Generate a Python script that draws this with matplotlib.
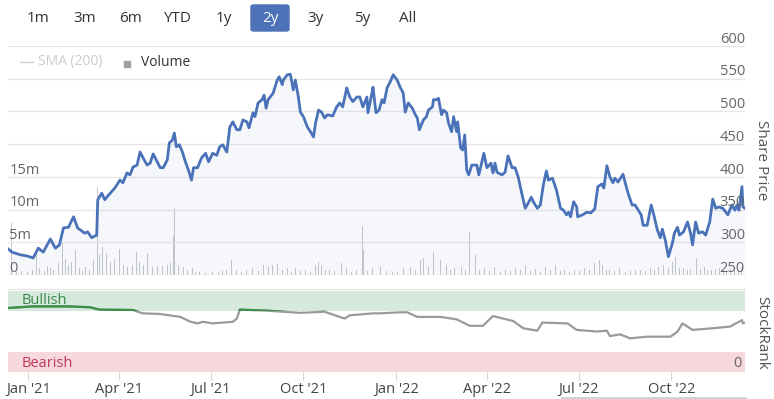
import matplotlib
matplotlib.use("Agg")
import matplotlib.pyplot as plt
import matplotlib.dates as mdates
import matplotlib.transforms as mtransforms
from matplotlib.patches import Rectangle, FancyBboxPatch
from matplotlib.lines import Line2D
import pandas as pd

plt.rcParams['font.family'] = ['Open Sans', 'DejaVu Sans']

# ---- data ----
start = pd.Timestamp('2020-12-12')
end = pd.Timestamp('2022-12-13')

# share price: days since start, price
price_days = [0, 4, 12, 19, 25, 30, 35, 42, 47, 51, 55, 60, 65, 69, 76, 79, 83, 88, 89, 93,
              96, 98, 106, 111, 114, 118, 121, 124, 128, 131, 134, 138, 141, 144, 148, 151, 154, 158, 160, 163,
              165, 167, 170, 173, 176, 179, 182, 184, 188, 192, 196, 199, 203, 207, 210, 213, 217, 220, 223, 227,
              230, 233, 237, 239, 243, 245, 248, 252, 254, 256, 258, 263, 267, 269, 272, 273, 277, 280, 283, 285,
              288, 290, 293, 297, 300, 303, 305, 308, 311, 314, 317, 322, 326, 329, 332, 336, 339, 342, 346, 349,
              352, 356, 357, 361, 362, 365, 368, 371, 373, 376, 379, 382, 386, 389, 392, 394, 397, 401, 404, 406,
              408, 412, 415, 417, 421, 422, 425, 427, 430, 432, 435, 437, 440, 442, 445, 446, 449, 451, 453, 455,
              457, 460, 465, 467, 472, 475, 479, 481, 483, 485, 490, 493, 496, 500, 503, 506, 510, 513, 516, 519,
              521, 525, 528, 531, 534, 536, 540, 544, 548, 551, 554, 556, 558, 561, 564, 565, 570, 574, 578, 582,
              585, 589, 591, 594, 597, 600, 602, 605, 610, 612, 615, 619, 622, 624, 628, 630, 634, 636, 638, 641,
              644, 647, 649, 652, 655, 659, 661, 664, 666, 670, 674, 677, 679, 682, 685, 689, 692, 696, 699, 702,
              705, 709, 714, 718, 721, 723, 725, 728, 729, 731]
price = [290, 285, 281, 279, 276, 291, 285, 305, 291, 296, 322, 323, 339, 322, 314, 316, 307, 311, 365, 375,
         365, 369, 383, 395, 391, 406, 403, 415, 418, 438, 429, 418, 421, 435, 423, 414, 414, 426, 452, 456,
         467, 446, 449, 438, 423, 410, 395, 414, 414, 429, 436, 423, 436, 433, 446, 449, 438, 476, 484, 472,
         472, 487, 484, 475, 498, 492, 513, 518, 525, 505, 518, 528, 548, 553, 541, 548, 556, 557, 533, 548,
         522, 499, 492, 476, 469, 461, 482, 502, 499, 490, 495, 493, 507, 513, 507, 536, 522, 515, 522, 522,
         507, 522, 498, 528, 537, 498, 502, 518, 513, 536, 545, 556, 548, 537, 528, 499, 513, 505, 495, 490,
         472, 487, 492, 502, 507, 518, 518, 520, 495, 502, 498, 482, 469, 492, 469, 484, 444, 441, 464, 410,
         403, 418, 418, 403, 436, 414, 421, 406, 421, 407, 403, 407, 432, 414, 414, 400, 372, 352, 360, 369,
         362, 352, 357, 388, 409, 395, 398, 380, 352, 349, 342, 346, 339, 362, 354, 339, 342, 346, 345, 351,
         385, 389, 383, 417, 400, 391, 398, 392, 404, 392, 375, 357, 357, 352, 342, 326, 326, 342, 357, 339,
         319, 307, 320, 303, 278, 299, 314, 323, 311, 316, 331, 314, 296, 331, 314, 316, 311, 331, 366, 352,
         354, 352, 342, 357, 349, 357, 349, 385, 354, 352]

# volume (millions)
vol_days = [3, 8, 13, 19, 24, 28, 31, 36, 39, 42, 45, 50, 54, 57, 60, 63, 67, 71, 74, 77,
            81, 85, 89, 91, 94, 98, 102, 106, 111, 115, 119, 123, 127, 130, 134, 138, 143, 148, 153, 158,
            161, 164, 165, 169, 174, 178, 183, 186, 190, 196, 203, 209, 213, 217, 222, 227, 232, 237, 243, 248,
            253, 258, 262, 267, 272, 277, 281, 285, 290, 295, 300, 305, 308, 311, 315, 319, 324, 331, 336, 341,
            346, 352, 353, 357, 362, 369, 375, 381, 386, 392, 399, 404, 409, 412, 417, 422, 429, 435, 439, 443,
            450, 454, 458, 464, 468, 473, 478, 483, 488, 493, 498, 503, 508, 513, 518, 523, 528, 533, 538, 543,
            548, 552, 557, 562, 567, 572, 577, 582, 587, 590, 594, 597, 602, 607, 612, 617, 622, 627, 632, 637,
            641, 645, 650, 655, 659, 662, 666, 670, 674, 677, 683, 687, 691, 694, 698, 702, 706, 710, 713, 717,
            721, 725, 728]
volume = [8.0, 0.4, 0.6, 0.5, 0.7, 3.4, 1.0, 0.6, 1.3, 1.0, 0.8, 1.8, 5.0, 2.5, 1.5, 2.0, 3.8, 1.0, 0.6, 1.2,
          0.7, 2.3, 13.5, 3.0, 4.3, 3.4, 2.0, 2.5, 4.0, 1.5, 1.2, 1.5, 3.5, 2.0, 1.5, 3.4, 1.2, 1.3, 1.4, 1.5,
          1.8, 5.9, 10.2, 1.5, 1.2, 0.8, 1.0, 0.4, 0.5, 0.3, 0.5, 0.4, 0.6, 0.8, 2.3, 0.8, 0.5, 0.8, 1.0, 0.6,
          1.5, 1.2, 1.6, 1.7, 0.7, 1.0, 0.5, 1.0, 0.6, 0.8, 0.5, 1.6, 2.0, 1.5, 0.7, 0.8, 0.6, 1.8, 1.0, 0.5,
          0.7, 7.5, 3.8, 0.6, 1.0, 1.2, 0.6, 0.5, 0.4, 1.0, 1.2, 0.7, 2.3, 2.6, 1.2, 3.5, 2.3, 1.5, 0.8, 1.0,
          1.2, 0.7, 6.5, 3.0, 0.8, 1.0, 0.6, 1.2, 0.5, 0.8, 0.6, 1.0, 0.7, 1.3, 0.6, 0.9, 0.5, 1.2, 0.7, 1.5,
          0.6, 0.8, 0.5, 0.7, 0.6, 1.0, 0.7, 1.8, 2.3, 1.5, 0.7, 0.8, 0.6, 1.0, 0.5, 0.6, 0.7, 0.8, 0.6, 1.0,
          0.8, 1.2, 1.5, 1.0, 2.0, 2.7, 1.1, 1.0, 0.8, 0.9, 2.6, 0.9, 1.2, 0.7, 0.8, 0.9, 1.0, 0.7, 0.8, 0.9,
          1.1, 0.8, 1.2]

# StockRank
rank_days = [0, 25, 59, 81, 91, 124, 133, 151, 171, 181, 188, 193, 203, 223, 227, 230, 257, 290, 314, 329,
             334, 339, 362, 369, 389, 396, 406, 429, 445, 458, 471, 481, 501, 511, 525, 530, 555, 564, 584, 594,
             597, 607, 617, 634, 657, 664, 669, 679, 699, 716, 728, 729, 731]
rank = [79, 81, 81, 80, 77, 76.5, 72.5, 71.6, 68, 62, 60, 62, 60, 62, 66, 77, 75.7, 73, 74.4, 68,
        66, 70, 72.4, 72.4, 73.7, 73.7, 68, 68, 65, 57, 57, 69, 63, 54, 51, 61, 60, 52, 50, 51,
        44.4, 46.5, 41.6, 43.6, 43.6, 49.8, 60, 52, 54, 56, 64, 60, 61]

price_ticks = [250, 300, 350, 400, 450, 500, 550, 600]
vol_ticks = [0, 5, 10, 15]
vol_tick_labels = ['0', '5m', '10m', '15m']
buttons = ['1m', '3m', '6m', 'YTD', '1y', '2y', '3y', '5y', 'All']
selected = '2y'

price_dates = start + pd.to_timedelta(price_days, unit='D')
vol_dates = start + pd.to_timedelta(vol_days, unit='D')
rank_dates = start + pd.to_timedelta(rank_days, unit='D')

# ---- figure ----
W, H = 774, 399
fig = plt.figure(figsize=(W / 100, H / 100), dpi=100)

def rect(x0, y0, x1, y1):
    return [x0 / W, 1 - y1 / H, (x1 - x0) / W, (y1 - y0) / H]

ax = fig.add_axes(rect(8, 46, 745, 275))
axv = ax.twinx()
ax.set_zorder(axv.get_zorder() + 1)
ax.patch.set_visible(False)

LINE = '#4a72b8'
GRID = '#e6e6e6'
LABEL = '#666666'

# volume
axv.bar(vol_dates, volume, width=1.0, color='#c8c8cc', zorder=2)
axv.set_ylim(0, 35)

# price
ax.fill_between(price_dates, price, 250, color=LINE, alpha=0.05, lw=0, zorder=1)
ax.plot(price_dates, price, color=LINE, lw=2.0, zorder=3, solid_joinstyle='round')
ax.set_ylim(250, 600)
ax.set_xlim(start, end)
for p in price_ticks:
    ax.axhline(p, color=GRID, lw=1, zorder=0)

for a in (ax, axv):
    for s in a.spines.values():
        s.set_visible(False)
    a.set_xticks([])
    a.set_yticks([])

off_up = mtransforms.ScaledTranslation(0, -0.5 / 72, fig.dpi_scale_trans)
tr_right = ax.get_yaxis_transform() + off_up
for p in price_ticks:
    ax.text(1.0, p, str(p), transform=tr_right, ha='right', va='bottom',
            fontsize=10.5, color=LABEL, zorder=5)
tr_left = axv.get_yaxis_transform() + mtransforms.ScaledTranslation(1 / 72, -0.5 / 72, fig.dpi_scale_trans)
for v, lab in zip(vol_ticks, vol_tick_labels):
    axv.text(0.0, v, lab, transform=tr_left, ha='left', va='bottom',
             fontsize=10.5, color=LABEL)

fig.text(762 / W, 1 - 160 / H, 'Share Price', rotation=270, ha='center', va='center',
         fontsize=11, color='#555555')

# legend
fig.add_artist(Line2D([20 / W, 33 / W], [1 - 62 / H] * 2, color='#cccccc', lw=1))
fig.text(38 / W, 1 - 62 / H, 'SMA (200)', ha='left', va='center', fontsize=10, color='#cccccc')
fig.add_artist(Rectangle((124 / W, 1 - 67 / H), 6 / W, 6 / H, color='#a0a0a8', transform=fig.transFigure))
fig.text(141 / W, 1 - 62 / H, 'Volume', ha='left', va='center', fontsize=10, color='#333333')

# range buttons
btn_x = [38, 85, 131, 177, 224, 270, 316, 362, 408]
for bx, b in zip(btn_x, buttons):
    if b == selected:
        fig.add_artist(FancyBboxPatch((251 / W, 1 - 31 / H), 38 / W, 26 / H,
                                      boxstyle='round,pad=0,rounding_size=0.004',
                                      color='#4d72b8', transform=fig.transFigure))
        fig.text(bx / W, 1 - 18 / H, b, ha='center', va='center', fontsize=11, color='white')
    else:
        fig.text(bx / W, 1 - 18 / H, b, ha='center', va='center', fontsize=11, color='#333333')

# ---- StockRank panel ----
ax2 = fig.add_axes(rect(8, 291, 745, 372))
ax2.axhspan(75, 100, color='#d6e9dd', lw=0, zorder=0)
ax2.axhspan(0, 25, color='#f6d8dd', lw=0, zorder=0)
ax2.plot(rank_dates, rank, color='#9a9a9a', lw=1.6, zorder=2)
green, = ax2.plot(rank_dates, rank, color='#3c8f47', lw=1.6, zorder=3)
clip = Rectangle((mdates.date2num(start), 75), mdates.date2num(end) - mdates.date2num(start), 25,
                 transform=ax2.transData)
green.set_clip_path(clip)
ax2.set_ylim(0, 100)
ax2.set_xlim(start, end)
for s in ax2.spines.values():
    s.set_visible(False)
ax2.set_yticks([])
ax2.xaxis.set_major_locator(mdates.MonthLocator(bymonth=[1, 4, 7, 10]))
ax2.xaxis.set_major_formatter(mdates.DateFormatter("%b '%y"))
ax2.tick_params(axis='x', length=6, color='#d8d8d8', labelsize=10.5, labelcolor='#444444', pad=1)

ax2.text(0.018, 88, 'Bullish', transform=ax2.get_yaxis_transform(), fontsize=10.5,
         color='#3a8a4a', va='center', ha='left', zorder=1)
ax2.text(0.018, 11, 'Bearish', transform=ax2.get_yaxis_transform(), fontsize=10.5,
         color='#c0395a', va='center', ha='left')
ax2.text(0.995, 11, '0', transform=ax2.get_yaxis_transform(), fontsize=10.5,
         color=LABEL, va='center', ha='right')
fig.text(762 / W, 1 - 333 / H, 'StockRank', rotation=270, ha='center', va='center',
         fontsize=11, color='#555555')

fig.add_artist(Line2D([8 / W, 745 / W], [1 - 289 / H] * 2, color=GRID, lw=1))
fig.add_artist(Line2D([562 / W, 745 / W], [1 - 397.5 / H] * 2, color='#d0d0d0', lw=2))

fig.savefig('out.png', dpi=100)
